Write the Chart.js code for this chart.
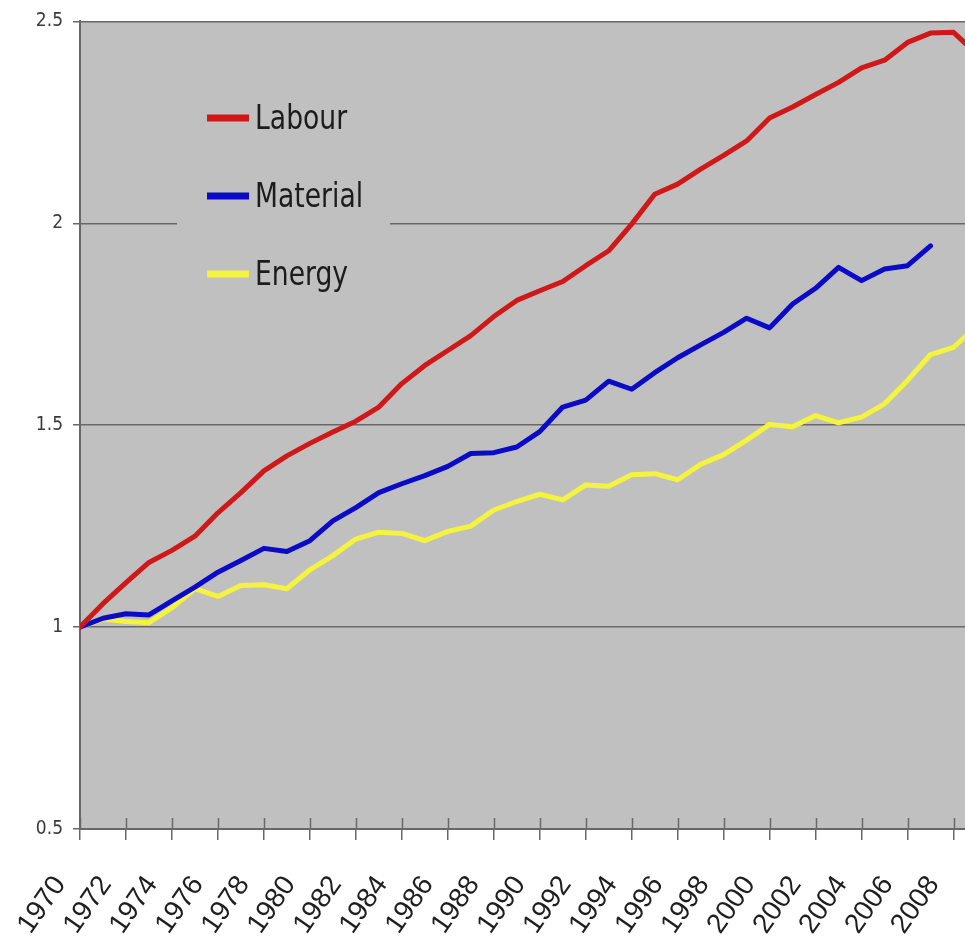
<!DOCTYPE html>
<html>
<head>
<meta charset="utf-8">
<script src="https://cdn.jsdelivr.net/npm/chart.js@4.4.1/dist/chart.umd.min.js"></script>
<style>
html,body{margin:0;padding:0;background:#ffffff;overflow:hidden}
#wrap{width:965px;height:949px;position:relative}
canvas{display:block}
</style>
</head>
<body>
<div id="wrap"><canvas id="c" width="965" height="949"></canvas></div>
<script>
// ---- data ----
const years = [1970,1971,1972,1973,1974,1975,1976,1977,1978,1979,
               1980,1981,1982,1983,1984,1985,1986,1987,1988,1989,
               1990,1991,1992,1993,1994,1995,1996,1997,1998,1999,
               2000,2001,2002,2003,2004,2005,2006,2007,2008,2009];
const seriesNames = ['Labour','Material','Energy'];
const labour = [1.0,1.058,1.11,1.16,1.19,1.225,1.283,1.333,1.387,1.424,
                1.455,1.483,1.51,1.545,1.603,1.648,1.685,1.722,1.769,1.809,
                1.833,1.856,1.895,1.932,1.998,2.072,2.097,2.134,2.168,2.204,
                2.261,2.288,2.319,2.349,2.385,2.404,2.448,2.471,2.473,2.42];
const material = [1.0,1.022,1.033,1.03,1.065,1.099,1.136,1.165,1.195,1.187,
                  1.214,1.263,1.296,1.333,1.355,1.375,1.398,1.43,1.432,1.446,
                  1.484,1.545,1.562,1.609,1.589,1.63,1.667,1.699,1.73,1.765,
                  1.741,1.80,1.839,1.891,1.858,1.887,1.895,1.944,null,null];
const energy = [1.0,1.02,1.014,1.011,1.048,1.095,1.076,1.103,1.105,1.095,
                1.142,1.177,1.218,1.235,1.232,1.214,1.237,1.25,1.29,1.311,
                1.329,1.315,1.352,1.349,1.377,1.38,1.365,1.403,1.427,1.463,
                1.502,1.496,1.524,1.506,1.52,1.553,1.611,1.675,1.693,1.745];
const xTickLabels = ['1970','1972','1974','1976','1978','1980','1982','1984','1986','1988',
                     '1990','1992','1994','1996','1998','2000','2002','2004','2006','2008'];
const yTickLabels = ['0.5','1','1.5','2','2.5'];

// ---- styling ----
const seriesColors = ['#D01818', '#0A0AC8', '#F4F43E'];
const plotBg = '#C0C0C0';
const gridColor = '#686868';
const narrowFont = '"Liberation Sans Narrow", "Arial Narrow", "DejaVu Sans Condensed", sans-serif';

function toPoints(vals) {
  const pts = [];
  vals.forEach((v, i) => { if (v !== null) pts.push({x: years[i], y: v}); });
  return pts;
}

const bgPlugin = {
  id: 'bgPlugin',
  beforeDraw(chart) {
    const {ctx, chartArea: a} = chart;
    ctx.save();
    ctx.fillStyle = '#ffffff';
    ctx.fillRect(0, 0, chart.width, chart.height);
    ctx.fillStyle = plotBg;
    ctx.fillRect(a.left, a.top, a.right - a.left, a.bottom - a.top);
    ctx.restore();
  }
};

// x tick marks cross the axis (inner half drawn here, outer half by the scale)
const innerTicks = {
  id: 'innerTicks',
  beforeDatasetsDraw(chart) {
    const {ctx, chartArea: a} = chart;
    const xs = chart.scales.x;
    ctx.save();
    ctx.strokeStyle = gridColor;
    ctx.lineWidth = 1.5;
    xs.ticks.forEach(t => {
      const px = Math.round(xs.getPixelForValue(t.value)) + 0.5;
      ctx.beginPath();
      ctx.moveTo(px, a.bottom - 11);
      ctx.lineTo(px, a.bottom);
      ctx.stroke();
    });
    ctx.restore();
  }
};

// legend box inside the plot area (covers the gridline like the original)
const legendBox = {
  id: 'legendBox',
  beforeDatasetsDraw(chart) {
    const ctx = chart.ctx;
    ctx.save();
    ctx.fillStyle = plotBg;
    ctx.fillRect(177, 78, 213, 232);
    const rowY = [118, 196, 274];
    chart.data.datasets.forEach((ds, i) => {
      ctx.strokeStyle = ds.borderColor;
      ctx.lineWidth = 7;
      ctx.lineCap = 'butt';
      ctx.beginPath();
      ctx.moveTo(207, rowY[i]);
      ctx.lineTo(249, rowY[i]);
      ctx.stroke();
      ctx.save();
      ctx.translate(255, rowY[i] + 2);
      ctx.scale(0.87, 1);
      ctx.fillStyle = '#1c1c1c';
      ctx.font = '34px ' + narrowFont;
      ctx.textBaseline = 'middle';
      ctx.textAlign = 'left';
      ctx.fillText(ds.label, 0, 0);
      ctx.restore();
    });
    ctx.restore();
  }
};

const datasets = [labour, material, energy].map((vals, i) => ({
  label: seriesNames[i],
  data: toPoints(vals),
  borderColor: seriesColors[i],
  backgroundColor: seriesColors[i],
  borderWidth: 5,
  pointRadius: 0,
  tension: 0,
  fill: false,
  borderJoinStyle: 'round',
  borderCapStyle: 'round'
}));

new Chart(document.getElementById('c'), {
  type: 'line',
  data: { datasets },
  plugins: [bgPlugin, innerTicks, legendBox],
  options: {
    responsive: false,
    animation: false,
    devicePixelRatio: 1,
    layout: { padding: { top: 19, right: 0, bottom: 0, left: 0 } },
    plugins: { legend: { display: false }, tooltip: { enabled: false }, title: { display: false } },
    scales: {
      x: {
        type: 'linear',
        min: 1970,
        max: 2008.5,
        afterBuildTicks: s => { s.ticks = xTickLabels.map(l => ({ value: Number(l) })); },
        afterFit: s => { s.height = 120; s.paddingLeft = 0; s.paddingRight = 0; },
        ticks: {
          autoSkip: false,
          minRotation: 55,
          maxRotation: 55,
          padding: 30,
          labelOffset: -20,
          color: '#1e1e1e',
          font: { family: '"Liberation Sans", Arial, sans-serif', size: 28 },
          callback: v => { const l = xTickLabels.find(t => Number(t) === v); return l === undefined ? '' : l; }
        },
        grid: { drawOnChartArea: false, color: gridColor, lineWidth: 1.5, tickLength: 11 },
        border: { color: gridColor, width: 2 }
      },
      y: {
        min: 0.5,
        max: 2.5,
        afterBuildTicks: s => { s.ticks = yTickLabels.map(l => ({ value: Number(l) })); },
        afterFit: s => { s.width = 80; },
        ticks: {
          padding: 10,
          color: '#3a3a3a',
          font: { family: narrowFont, size: 19 },
          callback: v => { const l = yTickLabels.find(t => Number(t) === v); return l === undefined ? '' : l; }
        },
        grid: { color: gridColor, lineWidth: 1.5, tickLength: 7 },
        border: { color: gridColor, width: 2 }
      }
    }
  }
});
</script>
</body>
</html>
